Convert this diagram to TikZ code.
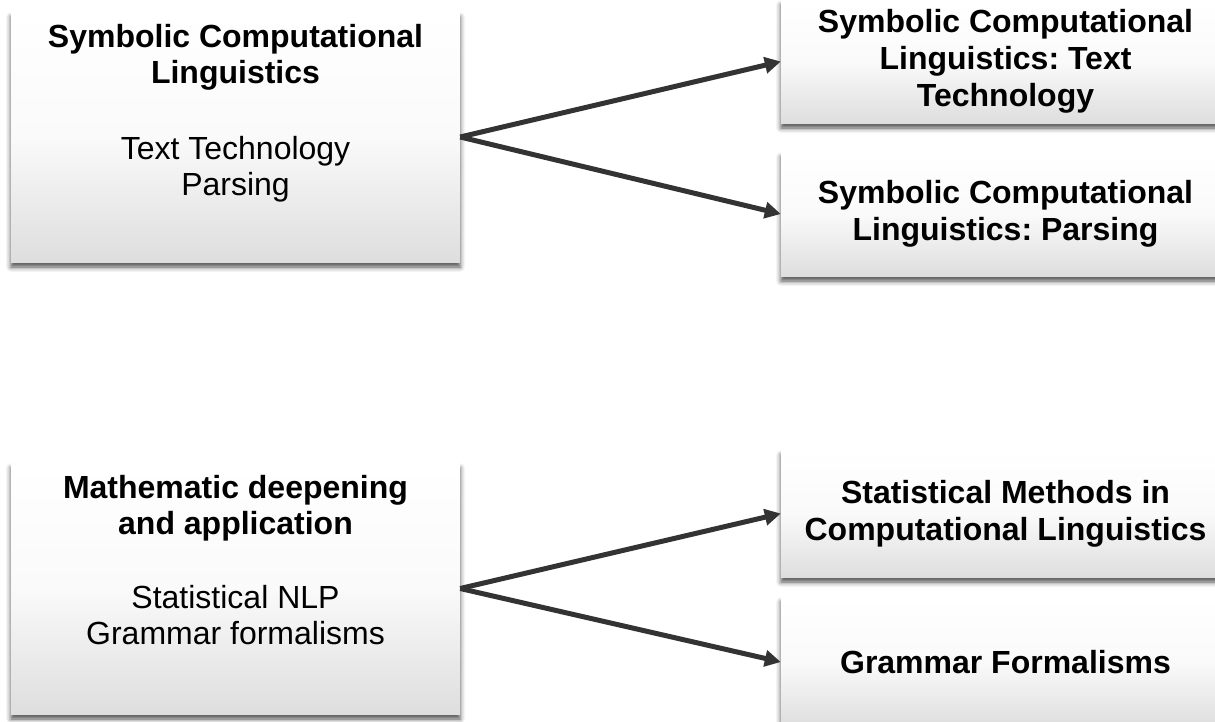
\documentclass[tikz,border=0pt]{standalone}
\usepackage{fontspec}
\setmainfont{Liberation Sans}
\usetikzlibrary{arrows.meta,shadows.blur}
\frenchspacing
\begin{document}
\begin{tikzpicture}[x=1pt,y=-1pt,
  box/.style={rectangle, inner sep=0pt, minimum width=449pt,
    top color=white, bottom color=black!13, middle color=black!2,
    blur shadow={shadow xshift=0pt, shadow yshift=-5pt, shadow blur radius=5pt, shadow opacity=70}},
  txt/.style={inner sep=0pt, align=center, font=\fontsize{32}{36}\selectfont},
  rtxt/.style={txt, font=\bfseries\fontsize{32}{37}\selectfont},
  link/.style={draw=black!80, line width=5pt, -{Triangle[length=16pt,width=16pt]}}]
\useasboundingbox (0,0) rectangle (1215,721);
% left boxes
\node[box, minimum height=250pt] (L1) at (235.5,137) {};
\node[box, minimum height=251pt] (L2) at (235.5,588.5) {};
% right boxes
\node[box, minimum height=123pt] (R1) at (1005.5,61.5) {};
\node[box, minimum height=124pt] (R2) at (1005.5,214) {};
\node[box, minimum height=127pt] (R3) at (1005.5,513.5) {};
\node[box, minimum height=130pt] (R4) at (1005.5,662) {};
% texts
\node[txt, anchor=north] (T1) at ([yshift=-12pt]L1.north)
  {\textbf{Symbolic Computational}\\\textbf{Linguistics}\\[40pt]Text Technology\\Parsing};
\node[txt, anchor=north] (T2) at ([yshift=-12pt]L2.north)
  {\textbf{Mathematic deepening}\\\textbf{and application}\\[38pt]Statistical NLP\\Grammar formalisms};
\node[rtxt] (T3) at (R1.center) {Symbolic Computational\\Linguistics: Text\\Technology};
\node[rtxt] (T4) at (R2.center) {Symbolic Computational\\Linguistics: Parsing};
\node[rtxt] (T5) at (R3.center) {Statistical Methods in\\Computational Linguistics};
\node[rtxt] (T6) at (R4.center) {Grammar Formalisms};
% arrows
\draw[link] (L1.east) -- (R1.west);
\draw[link] (L1.east) -- (R2.west);
\draw[link] (L2.east) -- (R3.west);
\draw[link] (L2.east) -- (R4.west);
\end{tikzpicture}
\end{document}
